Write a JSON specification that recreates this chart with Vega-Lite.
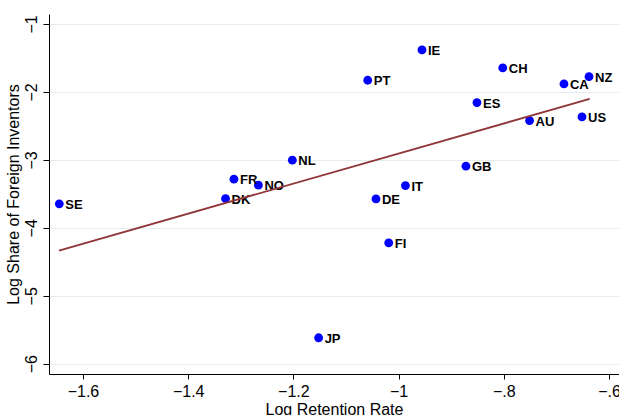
{
  "$schema": "https://vega.github.io/schema/vega-lite/v6.json",
  "width": 570,
  "height": 360,
  "autosize": {"type": "none"},
  "padding": {"left": 49, "top": 14, "right": 0, "bottom": 41},
  "background": "white",
  "config": {
    "view": {"stroke": null},
    "font": "Liberation Sans",
    "axis": {
      "domainColor": "black",
      "tickColor": "black",
      "labelColor": "black",
      "titleColor": "black",
      "labelFont": "Liberation Sans",
      "titleFont": "Liberation Sans",
      "labelFontSize": 16,
      "titleFontSize": 16,
      "titleFontWeight": "normal",
      "domainWidth": 1,
      "tickWidth": 1
    }
  },
  "datasets": {
    "pts": [
      {"code": "SE", "x": -1.645, "y": -3.647},
      {"code": "DK", "x": -1.329, "y": -3.569},
      {"code": "FR", "x": -1.313, "y": -3.284},
      {"code": "NO", "x": -1.2665, "y": -3.372},
      {"code": "NL", "x": -1.202, "y": -3.004},
      {"code": "PT", "x": -1.0587, "y": -1.828},
      {"code": "DE", "x": -1.043, "y": -3.574},
      {"code": "FI", "x": -1.0188, "y": -4.221},
      {"code": "IT", "x": -0.987, "y": -3.378},
      {"code": "JP", "x": -1.152, "y": -5.618},
      {"code": "IE", "x": -0.9555, "y": -1.382},
      {"code": "ES", "x": -0.851, "y": -2.157},
      {"code": "GB", "x": -0.872, "y": -3.093},
      {"code": "CH", "x": -0.802, "y": -1.647},
      {"code": "AU", "x": -0.751, "y": -2.422},
      {"code": "CA", "x": -0.6856, "y": -1.882},
      {"code": "US", "x": -0.6513, "y": -2.368},
      {"code": "NZ", "x": -0.638, "y": -1.775}
    ],
    "fit": [
      {"x": -1.6456, "y": -4.334},
      {"x": -0.6367, "y": -2.103}
    ]
  },
  "encoding": {
    "x": {
      "field": "x",
      "type": "quantitative",
      "scale": {"domain": [-1.6646, -0.581], "nice": false, "zero": false},
      "axis": {
        "values": [-1.6, -1.4, -1.2, -1, -0.8, -0.6],
        "labelExpr": "replace(format(datum.value, '~g'), '0.', '.')",
        "title": "Log Retention Rate",
        "grid": false,
        "tickSize": 5,
        "labelPadding": 4,
        "titlePadding": 2
      }
    },
    "y": {
      "field": "y",
      "type": "quantitative",
      "scale": {"domain": [-6.151, -0.853], "nice": false, "zero": false},
      "axis": {
        "values": [-6, -5, -4, -3, -2, -1],
        "labelExpr": "format(datum.value, '~g')",
        "title": "Log Share of Foreign Inventors",
        "labelAngle": 270,
        "grid": true,
        "gridColor": "#e3ecee",
        "gridWidth": 1,
        "tickSize": 6,
        "labelPadding": 4,
        "titlePadding": 2
      }
    }
  },
  "layer": [
    {
      "data": {"name": "pts"},
      "mark": {"type": "point", "filled": true, "color": "#0000ff", "size": 78, "opacity": 1}
    },
    {
      "data": {"name": "pts"},
      "mark": {"type": "text", "align": "left", "baseline": "middle", "dx": 6, "dy": 1, "fontWeight": "bold", "fontSize": 13, "color": "black"},
      "encoding": {"text": {"field": "code"}}
    },
    {
      "data": {"name": "fit"},
      "mark": {"type": "line", "color": "#8f3538", "strokeWidth": 1.8}
    }
  ]
}
